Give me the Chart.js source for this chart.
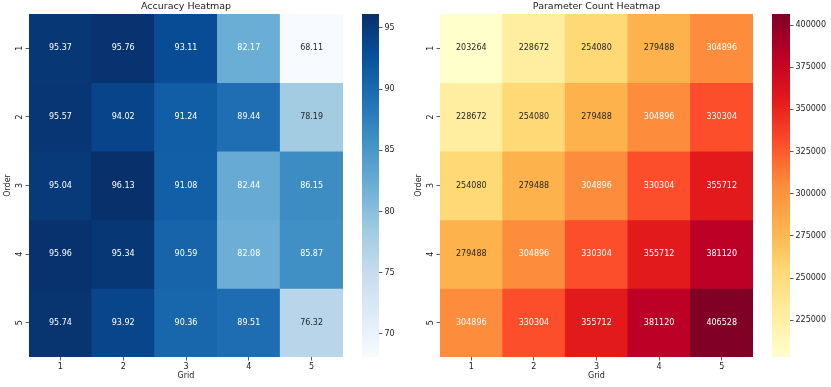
<!DOCTYPE html>
<html>
<head>
<meta charset="utf-8">
<script src="https://cdn.jsdelivr.net/npm/chart.js@4.4.1/dist/chart.umd.min.js"></script>
<style>
html, body { margin: 0; padding: 0; background: #fff; }
#wrap { position: relative; width: 831px; height: 387px; overflow: hidden; }
canvas { position: absolute; top: 0; }
</style>
</head>
<body>
<div id="wrap">
<canvas id="accMap" width="343" height="387" style="left:0px"></canvas>
<canvas id="accBar" width="60" height="387" style="left:362px"></canvas>
<canvas id="parMap" width="342" height="387" style="left:411px"></canvas>
<canvas id="parBar" width="59" height="387" style="left:772px"></canvas>
</div>
<script>
const grids = ['1', '2', '3', '4', '5'];
const orders = ['1', '2', '3', '4', '5'];
// rows = Order, columns = Grid
const accuracy = [
    [95.37, 95.76, 93.11, 82.17, 68.11],
    [95.57, 94.02, 91.24, 89.44, 78.19],
    [95.04, 96.13, 91.08, 82.44, 86.15],
    [95.96, 95.34, 90.59, 82.08, 85.87],
    [95.74, 93.92, 90.36, 89.51, 76.32]
];
const params = [
    [203264, 228672, 254080, 279488, 304896],
    [228672, 254080, 279488, 304896, 330304],
    [254080, 279488, 304896, 330304, 355712],
    [279488, 304896, 330304, 355712, 381120],
    [304896, 330304, 355712, 381120, 406528]
];
const accTicks = [70, 75, 80, 85, 90, 95];
const paramTicks = [225000, 250000, 275000, 300000, 325000, 350000, 375000, 400000];

const blues = ['#f7fbff', '#deebf7', '#c6dbef', '#9ecae1', '#6baed6', '#4292c6', '#2171b5', '#08519c', '#08306b'];
const ylOrRd = ['#ffffcc', '#ffeda0', '#fed976', '#feb24c', '#fd8d3c', '#fc4e2a', '#e31a1c', '#bd0026', '#800026'];

const FONT = '"DejaVu Sans", sans-serif';
const INK = '#1a1a1a';

function hexToRgb(h) {
    return [parseInt(h.slice(1, 3), 16), parseInt(h.slice(3, 5), 16), parseInt(h.slice(5, 7), 16)];
}

function colorAt(cmap, t) {
    //linear blend between the colormap stops
    t = Math.min(1, Math.max(0, t));
    const pos = t * (cmap.length - 1);
    const i = Math.min(cmap.length - 2, Math.floor(pos));
    const f = pos - i;
    const a = hexToRgb(cmap[i]), b = hexToRgb(cmap[i + 1]);
    const c = a.map((v, k) => Math.round(v + (b[k] - v) * f));
    return `rgb(${c[0]}, ${c[1]}, ${c[2]})`;
}

function textColor(rgb) {
    //seaborn style: dark text on light cells, white on dark ones
    const c = rgb.match(/\d+/g).map(Number).map(v => {
        v = v / 255;
        return v <= 0.03928 ? v / 12.92 : Math.pow((v + 0.055) / 1.055, 2.4);
    });
    const lum = 0.2126 * c[0] + 0.7152 * c[1] + 0.0722 * c[2];
    return lum > 0.408 ? '#262626' : '#ffffff';
}

const cellText = {
    id: 'cellText',
    afterDatasetsDraw(chart, args, opts) {
        const ctx = chart.ctx;
        ctx.save();
        ctx.font = `8px ${FONT}`;
        ctx.textAlign = 'center';
        ctx.textBaseline = 'middle';
        chart.data.datasets.forEach((ds, i) => {
            chart.getDatasetMeta(i).data.forEach((bar, j) => {
                ctx.fillStyle = textColor(ds.backgroundColor[j]);
                ctx.fillText(opts.fmt(opts.values[i][j]), bar.x, (bar.y + bar.base) / 2);
            });
        });
        ctx.restore();
    }
};

function makeHeatmap(id, title, values, cmap, fmt) {
    const flat = values.flat();
    const vmin = Math.min(...flat), vmax = Math.max(...flat);
    const datasets = orders.map((o, i) => ({
        label: 'Order ' + o,
        data: grids.map(() => 1),
        backgroundColor: values[i].map(v => colorAt(cmap, (v - vmin) / (vmax - vmin))),
        borderWidth: 0,
        barPercentage: 1,
        categoryPercentage: 1
    }));
    const tickGrid = { offset: false, drawOnChartArea: false, tickLength: 3.5, color: '#333', lineWidth: 0.8 };
    return new Chart(document.getElementById(id), {
        type: 'bar',
        data: { labels: grids, datasets: datasets },
        options: {
            responsive: false,
            animation: false,
            layout: { padding: 0 },
            plugins: {
                legend: { display: false },
                tooltip: { enabled: false },
                title: {
                    display: true, text: title, fullSize: false, color: INK,
                    font: { family: FONT, size: 9.5, weight: 'normal' },
                    padding: { top: 0.5, bottom: 2.1 }
                },
                cellText: { values: values, fmt: fmt }
            },
            scales: {
                x: {
                    stacked: true,
                    title: { display: true, text: 'Grid', color: INK, font: { family: FONT, size: 8 }, padding: { top: 2, bottom: 6.5 } },
                    ticks: { color: INK, font: { family: FONT, size: 8 }, padding: 2, maxRotation: 0 },
                    grid: tickGrid,
                    border: { display: false },
                    afterFit: s => { s.height = 30; }
                },
                y: {
                    stacked: true,
                    reverse: true,
                    min: 0,
                    max: orders.length,
                    afterBuildTicks: s => { s.ticks = orders.map((o, i) => ({ value: i + 0.5 })); },
                    ticks: {
                        color: INK, font: { family: FONT, size: 8 },
                        callback: (v, i) => orders[i],
                        minRotation: 90, maxRotation: 90, crossAlign: 'center', padding: 3
                    },
                    title: { display: true, text: 'Order', color: INK, font: { family: FONT, size: 8 }, padding: { top: 3, bottom: 2 } },
                    grid: tickGrid,
                    border: { display: false },
                    afterFit: s => { s.width = 29; }
                }
            }
        },
        plugins: [cellText]
    });
}

function makeColorbar(id, values, cmap, tickVals, axisWidth) {
    const flat = values.flat();
    const vmin = Math.min(...flat), vmax = Math.max(...flat);
    return new Chart(document.getElementById(id), {
        type: 'bar',
        data: {
            labels: [''],
            datasets: [{
                data: [[vmin, vmax]],
                backgroundColor: ctx => {
                    const area = ctx.chart.chartArea;
                    if (!area) return cmap[0];
                    const g = ctx.chart.ctx.createLinearGradient(0, area.bottom, 0, area.top);
                    cmap.forEach((c, k) => g.addColorStop(k / (cmap.length - 1), c));
                    return g;
                },
                borderWidth: 0,
                borderSkipped: false,
                barPercentage: 1,
                categoryPercentage: 1
            }]
        },
        options: {
            responsive: false,
            animation: false,
            layout: { padding: { top: 14, bottom: 30, left: 0, right: 0 } },
            plugins: { legend: { display: false }, tooltip: { enabled: false } },
            scales: {
                x: { display: false },
                y: {
                    position: 'right',
                    min: vmin,
                    max: vmax,
                    afterBuildTicks: s => { s.ticks = tickVals.map(v => ({ value: v })); },
                    ticks: { color: INK, font: { family: FONT, size: 8 }, padding: 2, callback: v => String(v) },
                    grid: { drawOnChartArea: false, tickLength: 3.5, color: '#333', lineWidth: 0.8 },
                    border: { display: false },
                    afterFit: s => { s.width = axisWidth; }
                }
            }
        }
    });
}

makeHeatmap('accMap', 'Accuracy Heatmap', accuracy, blues, v => v.toFixed(2));
makeColorbar('accBar', accuracy, blues, accTicks, 43);
makeHeatmap('parMap', 'Parameter Count Heatmap', params, ylOrRd, v => String(v));
makeColorbar('parBar', params, ylOrRd, paramTicks, 41);
</script>
</body>
</html>
